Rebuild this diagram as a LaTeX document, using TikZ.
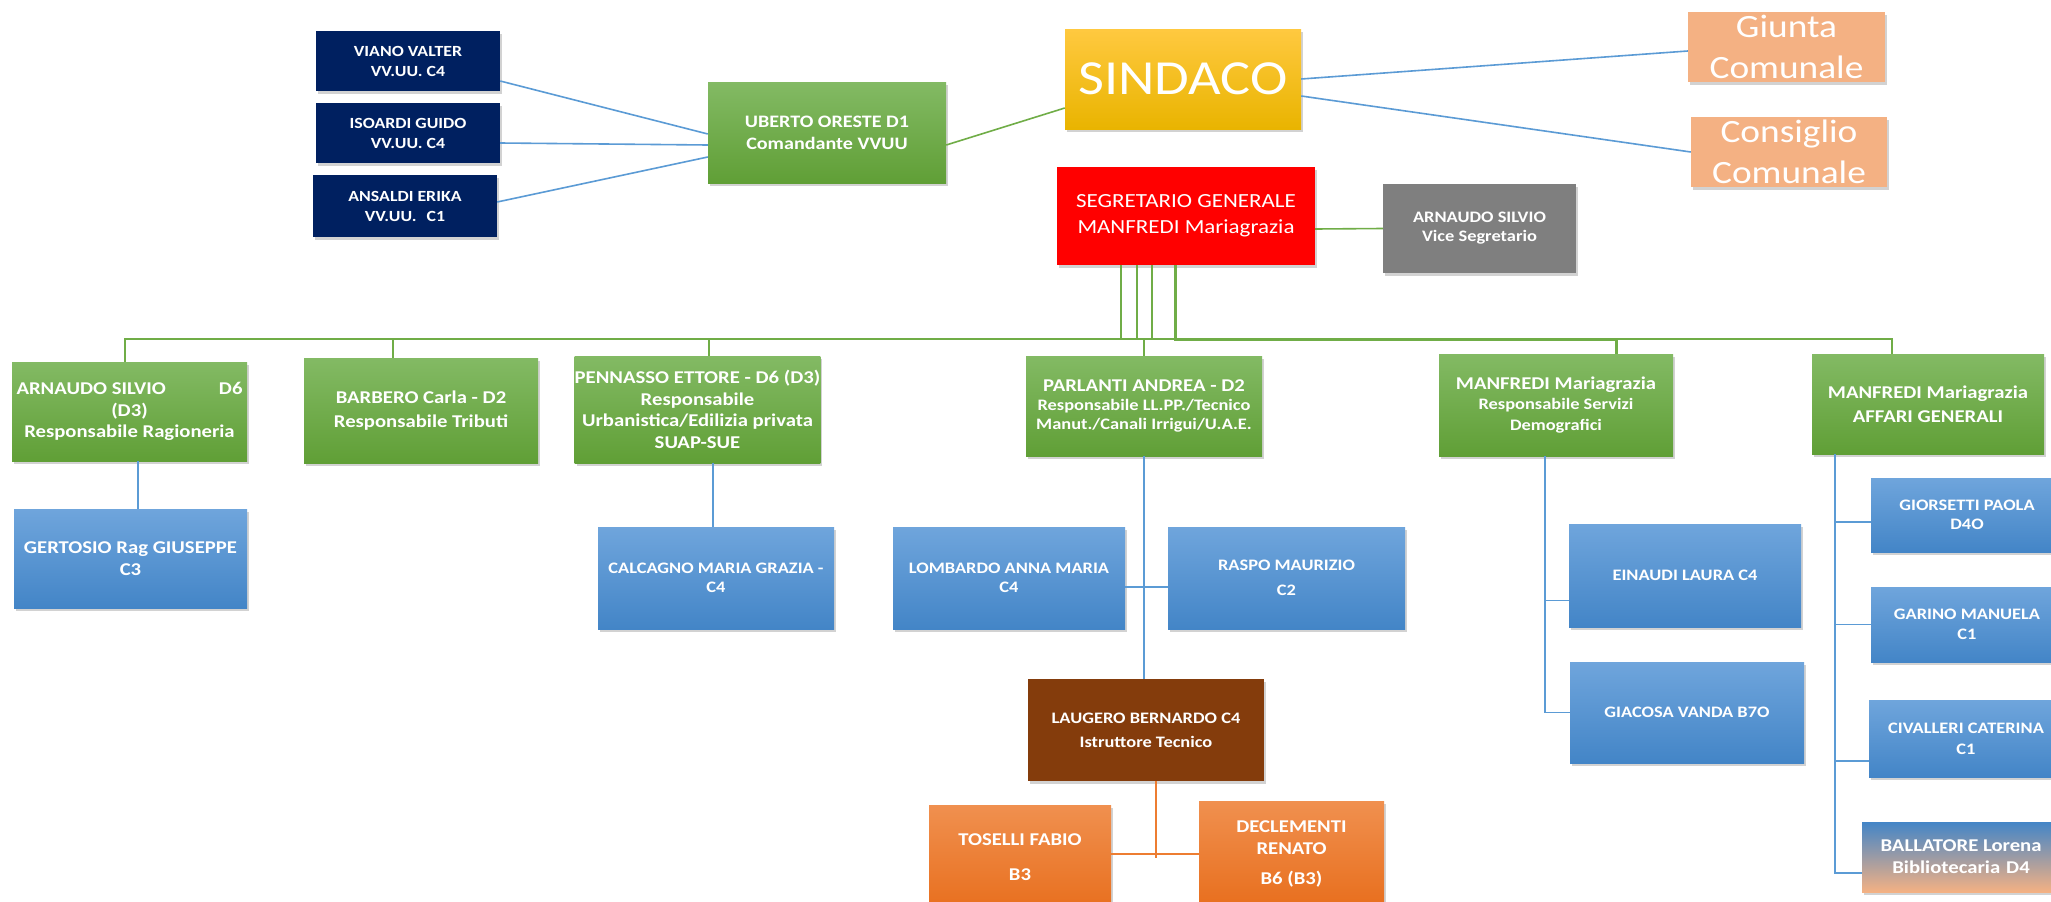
\documentclass[tikz,border=0pt]{standalone}
\usepackage{fontspec}
\setmainfont[FakeStretch=1.15]{Carlito}
\usetikzlibrary{shadows}

\definecolor{navyfill}{HTML}{002060}
\definecolor{greentop}{HTML}{83BA64}
\definecolor{greenbot}{HTML}{609F36}
\definecolor{bluetop}{HTML}{6FA5DC}
\definecolor{bluebot}{HTML}{4385C7}
\definecolor{goldtop}{HTML}{FFC940}
\definecolor{goldbot}{HTML}{E9B400}
\definecolor{salmon}{HTML}{F4B183}
\definecolor{brownfill}{HTML}{843C0C}
\definecolor{orangetop}{HTML}{F0904F}
\definecolor{orangebot}{HTML}{E86F1E}
\definecolor{grayfill}{HTML}{7F7F7F}
\definecolor{linkblue}{HTML}{5B9BD5}
\definecolor{linkgreen}{HTML}{70AD47}
\definecolor{linkorange}{HTML}{ED7D31}

\def \linkWidth {1.6pt}

\tikzset{
  box/.style={rectangle, inner sep=0pt, align=center, text=white,
    drop shadow={shadow xshift=2pt, shadow yshift=-3pt, opacity=0.35}},
  boxsize/.style 2 args={minimum width=#1pt, minimum height=#2pt},
  navybox/.style={box, fill=navyfill, font=\bfseries\fontsize{15.5}{20}\selectfont},
  greenbox/.style={box, top color=greentop, bottom color=greenbot, font=\bfseries\fontsize{18}{22}\selectfont},
  bluebox/.style={box, top color=bluetop, bottom color=bluebot, font=\bfseries\fontsize{16}{19.5}\selectfont},
  orangebox/.style={box, top color=orangetop, bottom color=orangebot, font=\bfseries\fontsize{18}{22}\selectfont},
  salmonbox/.style={box, fill=salmon, font=\fontsize{32.5}{41}\selectfont},
  blueline/.style={draw=linkblue, line width=\linkWidth},
  greenline/.style={draw=linkgreen, line width=\linkWidth},
  orangeline/.style={draw=linkorange, line width=\linkWidth}
}

\begin{document}
\begin{tikzpicture}[x=1pt, y=-1pt]
  \fill[white] (0,0) rectangle (2051,902);
  \useasboundingbox (0,0) rectangle (2051,902);

  \node[navybox, boxsize={184}{60}] (viano) at (408,61) {VIANO VALTER\\VV.UU. C4};
  \node[navybox, boxsize={184}{60}] (isoardi) at (408,133) {ISOARDI GUIDO\\VV.UU. C4};
  \node[navybox, boxsize={184}{62}] (ansaldi) at (405,206) {ANSALDI ERIKA\\VV.UU.\hspace{10pt}C1};
  \node[greenbox, boxsize={238}{101}, font=\bfseries\fontsize{17.5}{22}\selectfont] (uberto) at (827,132.5) {UBERTO ORESTE D1\\Comandante VVUU};

  \node[box, top color=goldtop, bottom color=goldbot, boxsize={236}{100}, font=\fontsize{49}{55}\selectfont] (sindaco) at (1183,79) {SINDACO};
  \node[salmonbox, boxsize={197}{70}] (giunta) at (1786.5,47) {Giunta\\Comunale};
  \node[salmonbox, boxsize={196}{70}] (consiglio) at (1789,152) {Consiglio\\Comunale};
  \node[box, fill=red, boxsize={258}{98}, font=\fontsize{20}{26}\selectfont] (segretario) at (1186,216) {SEGRETARIO GENERALE\\MANFREDI Mariagrazia};
  \node[box, fill=grayfill, boxsize={193}{89}, font=\bfseries\fontsize{16}{19}\selectfont] (vice) at (1479.5,228.5) {ARNAUDO SILVIO\\Vice Segretario};

  \node[greenbox, boxsize={235}{99}, font=\bfseries\fontsize{18}{21.5}\selectfont] (arnaudo) at (129.5,411.5) {\makebox[226pt]{ARNAUDO SILVIO\hfill D6}\\(D3)\\Responsabile Ragioneria};
  \node[greenbox, boxsize={234}{105}, font=\bfseries\fontsize{18}{24}\selectfont] (barbero) at (421,410.5) {BARBERO Carla - D2\\Responsabile Tributi};
  \node[greenbox, boxsize={245}{107}, font=\bfseries\fontsize{18}{21.5}\selectfont] (pennasso) at (697.5,409.5) {PENNASSO ETTORE - D6 (D3)\\Responsabile\\Urbanistica/Edilizia privata\\SUAP-SUE};
  \node[greenbox, boxsize={236}{100}, font=\bfseries\fontsize{16}{19}\selectfont] (parlanti) at (1144,406) {{\fontsize{18}{19}\selectfont PARLANTI ANDREA - D2}\\Responsabile LL.PP./Tecnico\\Manut./Canali Irrigui/U.A.E.};
  \node[greenbox, boxsize={234}{102}, font=\bfseries\fontsize{16}{20.5}\selectfont] (demografici) at (1556,405) {{\fontsize{18}{20.5}\selectfont MANFREDI Mariagrazia}\\Responsabile Servizi\\Demografici};
  \node[greenbox, boxsize={232}{100}, font=\bfseries\fontsize{18}{24}\selectfont] (affari) at (1928,404) {MANFREDI Mariagrazia\\AFFARI GENERALI};

  \node[bluebox, boxsize={233}{99}, font=\bfseries\fontsize{18}{22}\selectfont] (gertosio) at (130.5,558.5) {GERTOSIO Rag GIUSEPPE\\C3};
  \node[bluebox, boxsize={236}{102}] (calcagno) at (716,578) {CALCAGNO MARIA GRAZIA -\\C4};
  \node[bluebox, boxsize={232}{102}] (lombardo) at (1009,578) {LOMBARDO ANNA MARIA\\C4};
  \node[bluebox, boxsize={237}{102}] (raspo) at (1286.5,578) {RASPO MAURIZIO\\[5pt]C2};
  \node[bluebox, boxsize={232}{103}] (einaudi) at (1685,575.5) {EINAUDI LAURA C4};
  \node[bluebox, boxsize={234}{101}] (giacosa) at (1687,712.5) {GIACOSA VANDA B7O};
  \node[bluebox, boxsize={192}{74}] (giorsetti) at (1967,515) {GIORSETTI PAOLA\\D4O};
  \node[bluebox, boxsize={192}{75}] (garino) at (1967,624.5) {GARINO MANUELA\\C1};
  \node[bluebox, boxsize={194}{77}, font=\bfseries\fontsize{16}{21}\selectfont] (civalleri) at (1966,738.5) {CIVALLERI CATERINA\\C1};
  \node[box, top color=bluebot, bottom color=salmon, boxsize={198}{70}, font=\bfseries\fontsize{18}{22}\selectfont] (ballatore) at (1961,857) {BALLATORE Lorena\\Bibliotecaria\hspace{6pt}D4};

  \node[box, fill=brownfill, boxsize={236}{102}, font=\bfseries\fontsize{16}{24}\selectfont] (laugero) at (1146,730) {LAUGERO BERNARDO C4\\Istruttore Tecnico};
  \node[orangebox, boxsize={182}{105}] (toselli) at (1020,857.5) {TOSELLI FABIO\\[13pt]B3};
  \node[orangebox, boxsize={185}{105}] (declementi) at (1291.5,853.5) {DECLEMENTI\\RENATO\\[8pt]B6 (B3)};

  \draw[blueline] ([yshift=-20pt]viano.east) -- ([yshift=-1.5pt]uberto.west);
  \draw[blueline] ([yshift=-10pt]isoardi.east) -- ([yshift=-12.5pt]uberto.west);
  \draw[blueline] ([yshift=4pt]ansaldi.east) -- ([yshift=-24.5pt]uberto.west);
  \draw[greenline] ([yshift=-12.5pt]uberto.east) -- ([yshift=-29pt]sindaco.west);
  \draw[blueline] (sindaco.east) -- ([yshift=-4pt]giunta.west);
  \draw[blueline] ([yshift=-17pt]sindaco.east) -- (consiglio.west);
  \draw[greenline] ([yshift=-13pt]segretario.east) -- (vice.west);

  \coordinate (bus) at (1000,339);
  \draw[greenline] ([xshift=-4.5pt]arnaudo.north) |- (bus) -| ([xshift=-36pt]affari.north);
  \foreach \dx in {-65,-49,-34}
    \draw[greenline] ([xshift=\dx pt]segretario.south) -- ([xshift=\dx pt]segretario.south |- bus);
  \draw[greenline, line width=3pt] ([xshift=-11pt]segretario.south) |- ([xshift=60pt]demografici.north |- bus) -- ([xshift=60pt]demografici.north);
  \foreach \name/\dx in {barbero/-28, pennasso/11.5, parlanti/0}
    \draw[greenline] ([xshift=\dx pt]\name.north) -- ([xshift=\dx pt]\name.north |- bus);

  \draw[blueline] ([xshift=8.5pt]arnaudo.south) -- ([xshift=8.5pt]arnaudo.south |- gertosio.north);
  \draw[blueline] ([xshift=15.5pt]pennasso.south) -- ([xshift=15.5pt]pennasso.south |- calcagno.north);
  \draw[blueline] (parlanti.south) -- (parlanti.south |- laugero.north);
  \draw[blueline] ([yshift=-9pt]lombardo.east) -- ([yshift=-9pt]lombardo.east -| raspo.west);

  \coordinate (demotap) at ([xshift=-11pt]demografici.south);
  \draw[blueline] (demotap) |- (giacosa.west);
  \draw[blueline] ([yshift=-25pt]einaudi.west) -| (demotap);

  \coordinate (affaritap) at ([xshift=-93pt]affari.south);
  \foreach \name/\dy in {giorsetti/-7, garino/0, civalleri/-22.5, ballatore/-16}
    \draw[blueline] ([yshift=\dy pt]\name.west) -| (affaritap);

  \draw[orangeline] ([xshift=10pt]laugero.south) -- ([xshift=10pt]laugero.south |- toselli.east);
  \draw[orangeline] ([yshift=3.5pt]toselli.east) -- ([yshift=3.5pt]toselli.east -| declementi.west);
\end{tikzpicture}
\end{document}
